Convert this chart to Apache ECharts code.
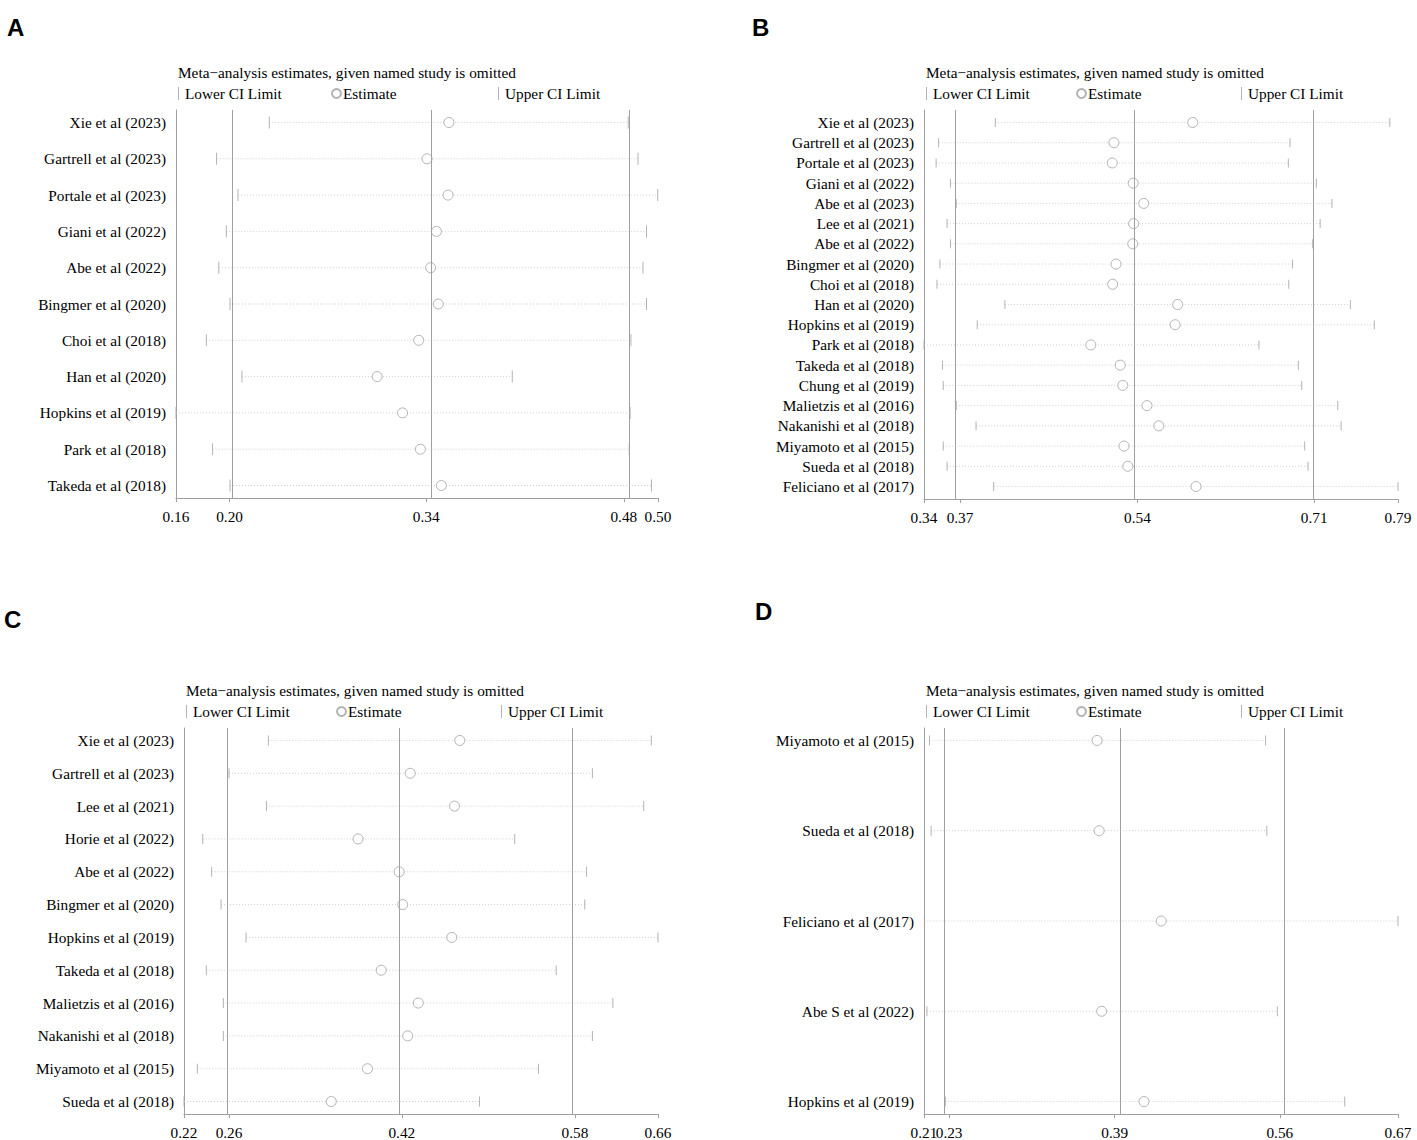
<!DOCTYPE html>
<html>
<head>
<meta charset="utf-8">
<script src="https://cdn.jsdelivr.net/npm/echarts@6/dist/echarts.min.js"></script>
<style>html,body{margin:0;padding:0;background:#fff;}#c{width:1417px;height:1140px;}</style>
</head>
<body>
<div id="c"></div>
<script>
// ---------- DATA ----------
const titleText = 'Meta\u2212analysis estimates, given named study is omitted';
const legendNames = ['Lower CI Limit', 'Estimate', 'Upper CI Limit'];

const studiesA = ['Xie et al (2023)','Gartrell et al (2023)','Portale et al (2023)','Giani et al (2022)','Abe et al (2022)','Bingmer et al (2020)','Choi et al (2018)','Han et al (2020)','Hopkins et al (2019)','Park et al (2018)','Takeda et al (2018)'];
const lowerA = [0.2258,0.1886,0.2037,0.1955,0.1902,0.1981,0.1814,0.2065,0.1600,0.1858,0.1981];
const estA   = [0.3525,0.3371,0.3519,0.3437,0.3396,0.3450,0.3312,0.3019,0.3198,0.3324,0.3472];
const upperA = [0.4790,0.4859,0.4998,0.4919,0.4894,0.4919,0.4809,0.3972,0.4803,0.4797,0.4954];
const overallA = [0.1978,0.3365,0.4759];
const rangeA = [0.16,0.50];
const tickLabelsA = ['0.16','0.20','0.34','0.48','0.50'];

const studiesB = ['Xie et al (2023)','Gartrell et al (2023)','Portale et al (2023)','Giani et al (2022)','Abe et al (2023)','Lee et al (2021)','Abe et al (2022)','Bingmer et al (2020)','Choi et al (2018)','Han et al (2020)','Hopkins et al (2019)','Park et al (2018)','Takeda et al (2018)','Chung et al (2019)','Malietzis et al (2016)','Nakanishi et al (2018)','Miyamoto et al (2015)','Sueda et al (2018)','Feliciano et al (2017)'];
const lowerB = [0.4077,0.3539,0.3515,0.3651,0.3706,0.3619,0.3651,0.3551,0.3523,0.4168,0.3905,0.3400,0.3575,0.3583,0.3706,0.3894,0.3583,0.3619,0.4061];
const estB   = [0.5951,0.5203,0.5187,0.5386,0.5486,0.5390,0.5382,0.5223,0.5191,0.5808,0.5784,0.4984,0.5263,0.5287,0.5517,0.5629,0.5299,0.5335,0.5983];
const upperB = [0.7822,0.6875,0.6859,0.7125,0.7273,0.7161,0.7090,0.6899,0.6863,0.7448,0.7675,0.6580,0.6954,0.6986,0.7328,0.7360,0.7014,0.7046,0.7900];
const overallB = [0.3742,0.5426,0.7105];
const rangeB = [0.34,0.79];
const tickLabelsB = ['0.34','0.37','0.54','0.71','0.79'];

const studiesC = ['Xie et al (2023)','Gartrell et al (2023)','Lee et al (2021)','Horie et al (2022)','Abe et al (2022)','Bingmer et al (2020)','Hopkins et al (2019)','Takeda et al (2018)','Malietzis et al (2016)','Nakanishi et al (2018)','Miyamoto et al (2015)','Sueda et al (2018)'];
const lowerC = [0.2983,0.2618,0.2966,0.2374,0.2457,0.2544,0.2776,0.2407,0.2565,0.2565,0.2324,0.2200];
const estC   = [0.4760,0.4300,0.4711,0.3816,0.4197,0.4230,0.4686,0.4031,0.4375,0.4276,0.3903,0.3567];
const upperC = [0.6538,0.5991,0.6467,0.5270,0.5937,0.5920,0.6600,0.5655,0.6181,0.5991,0.5490,0.4943];
const overallC = [0.2618,0.4222,0.5829];
const rangeC = [0.22,0.66];
const tickLabelsC = ['0.22','0.26','0.42','0.58','0.66'];

const studiesD = ['Miyamoto et al (2015)','Sueda et al (2018)','Feliciano et al (2017)','Abe S et al (2022)','Hopkins et al (2019)'];
const lowerD = [0.2153,0.2169,0.2104,0.2128,0.2307];
const estD   = [0.3780,0.3800,0.4402,0.3824,0.4235];
const upperD = [0.5415,0.5427,0.6700,0.5529,0.6183];
const overallD = [0.2344,0.3951,0.5553];
const rangeD = [0.21,0.67];
const tickLabelsD = ['0.21','0.23','0.39','0.56','0.67'];

// ---------- LAYOUT / STYLE ----------
const panels = [
  {letter:'A', lx:7,   ly:15,  studies:studiesA, lower:lowerA, est:estA, upper:upperA, overall:overallA, range:rangeA, ticks:tickLabelsA,
   grid:{left:176, top:110, width:482, height:388}, tickH:12, titleY:65, legY:86},
  {letter:'B', lx:752, ly:15,  studies:studiesB, lower:lowerB, est:estB, upper:upperB, overall:overallB, range:rangeB, ticks:tickLabelsB,
   grid:{left:924, top:110, width:474, height:389}, tickH:9, titleY:65, legY:86},
  {letter:'C', lx:4,   ly:607, studies:studiesC, lower:lowerC, est:estC, upper:upperC, overall:overallC, range:rangeC, ticks:tickLabelsC,
   grid:{left:184, top:728, width:474, height:387}, tickH:10, titleY:683, legY:704},
  {letter:'D', lx:755, ly:599, studies:studiesD, lower:lowerD, est:estD, upper:upperD, overall:overallD, range:rangeD, ticks:tickLabelsD,
   grid:{left:924, top:728, width:474, height:387}, tickH:10, titleY:683, legY:704}
];

const serif = 'Liberation Serif';
const fs = 15.3;
const gray = '#a0a0a0';
const dotGray = '#cfcfcf';
const padPx = 12.5;

const option = {
  animation: false,
  backgroundColor: '#fff',
  title: [], legend: [], grid: [], xAxis: [], yAxis: [], series: []
};
const overlayAxes = [];

panels.forEach((p, k) => {
  const n = p.studies.length;
  const pad = padPx * (n - 1) / (p.grid.height - 2 * padPx);
  const tickVals = [p.range[0], p.overall[0], p.overall[1], p.overall[2], p.range[1]];
  const mainLabelVals = [p.range[0], p.overall[1], p.overall[2], p.range[1]];
  const idx = p.studies.map((_, i) => i);
  const labelOf = (v) => { const j = tickVals.indexOf(v); return j >= 0 ? p.ticks[j] : ''; };

  option.title.push({text: p.letter, left: p.lx, top: p.ly, padding: 0,
    textStyle: {fontFamily: 'Liberation Sans', fontWeight: 'bold', fontSize: 24, color: '#000'}});
  option.title.push({text: titleText, left: p.grid.left + 2, top: p.titleY, padding: 0,
    textStyle: {fontFamily: serif, fontWeight: 'normal', fontSize: fs, color: '#000'}});

  const w = p.grid.width;
  const legendCommon = {top: p.legY, padding: 0, selectedMode: false, itemGap: 0,
    textStyle: {fontFamily: serif, fontSize: fs, color: '#000', padding: [0, 0, 0, 1]}};
  option.legend.push(Object.assign({}, legendCommon, {left: p.grid.left + 2, data: [legendNames[0]], icon: 'rect', itemWidth: 1, itemHeight: 13}));
  option.legend.push(Object.assign({}, legendCommon, {left: p.grid.left + Math.round(w * 0.329) - 4, data: [legendNames[1]], icon: 'circle', itemWidth: 9, itemHeight: 9,
    textStyle: {fontFamily: serif, fontSize: fs, color: '#000', padding: [0, 0, 0, -3]}}));
  option.legend.push(Object.assign({}, legendCommon, {left: p.grid.left + Math.round(w * 0.668), data: [legendNames[2]], icon: 'rect', itemWidth: 1, itemHeight: 13}));

  option.grid.push({left: p.grid.left, top: p.grid.top, width: p.grid.width, height: p.grid.height, containLabel: false});

  const labelStyle = {margin: 11, fontFamily: serif, fontSize: fs, color: '#000',
    showMinLabel: true, showMaxLabel: true, hideOverlap: false, formatter: labelOf};

  option.xAxis.push({
    type: 'value', gridIndex: k, min: p.range[0], max: p.range[1], position: 'bottom',
    axisLine: {show: true, onZero: false, lineStyle: {color: gray, width: 1}},
    axisTick: {show: true, customValues: tickVals, length: 4, lineStyle: {color: gray}},
    splitLine: {show: false},
    axisLabel: Object.assign({customValues: mainLabelVals}, labelStyle)
  });
  // second label layer on the same axis position, so the close-by lower-limit label is not dropped
  overlayAxes.push({
    type: 'value', gridIndex: k, min: p.range[0], max: p.range[1], position: 'bottom',
    axisLine: {show: false, onZero: false}, axisTick: {show: false}, splitLine: {show: false},
    axisLabel: Object.assign({customValues: [p.overall[0]]}, labelStyle)
  });
  option.yAxis.push({
    type: 'value', gridIndex: k, inverse: true, min: -pad, max: n - 1 + pad, position: 'left',
    axisLine: {show: true, onZero: false, lineStyle: {color: gray, width: 1}},
    axisTick: {show: false}, splitLine: {show: false},
    axisLabel: {customValues: idx, margin: 10, fontFamily: serif, fontSize: fs, color: '#000',
      hideOverlap: false,
      formatter: (v) => p.studies[Math.round(v)] || ''}
  });

  // dotted CI line
  option.series.push({
    type: 'custom', xAxisIndex: k, yAxisIndex: k, silent: true, z: 1,
    data: idx.map(i => [p.lower[i], p.upper[i], i]),
    encode: {x: [0, 1], y: 2},
    renderItem: (params, api) => {
      const a = api.coord([api.value(0), api.value(2)]);
      const b = api.coord([api.value(1), api.value(2)]);
      return {type: 'line', shape: {x1: a[0], y1: a[1], x2: b[0], y2: b[1]},
        style: {stroke: dotGray, lineWidth: 1, lineDash: [1, 2]}};
    }
  });
  option.series.push({
    name: legendNames[0], type: 'scatter', xAxisIndex: k, yAxisIndex: k, silent: true, z: 3,
    symbol: 'rect', symbolSize: [1, p.tickH], itemStyle: {color: gray},
    data: idx.map(i => [p.lower[i], i])
  });
  option.series.push({
    name: legendNames[1], type: 'scatter', xAxisIndex: k, yAxisIndex: k, silent: true, z: 4,
    symbol: 'circle', symbolSize: 10, itemStyle: {color: '#fff', borderColor: gray, borderWidth: 1},
    data: idx.map(i => [p.est[i], i]),
    markLine: {silent: true, symbol: ['none', 'none'], label: {show: false},
      lineStyle: {color: gray, width: 1, type: 'solid'},
      data: p.overall.map(v => ({xAxis: v}))}
  });
  option.series.push({
    name: legendNames[2], type: 'scatter', xAxisIndex: k, yAxisIndex: k, silent: true, z: 3,
    symbol: 'rect', symbolSize: [1, p.tickH], itemStyle: {color: gray},
    data: idx.map(i => [p.upper[i], i])
  });
});
option.xAxis = option.xAxis.concat(overlayAxes);

const chart = echarts.init(document.getElementById('c'), null, {renderer: 'svg'});
chart.setOption(option);
</script>
</body>
</html>
